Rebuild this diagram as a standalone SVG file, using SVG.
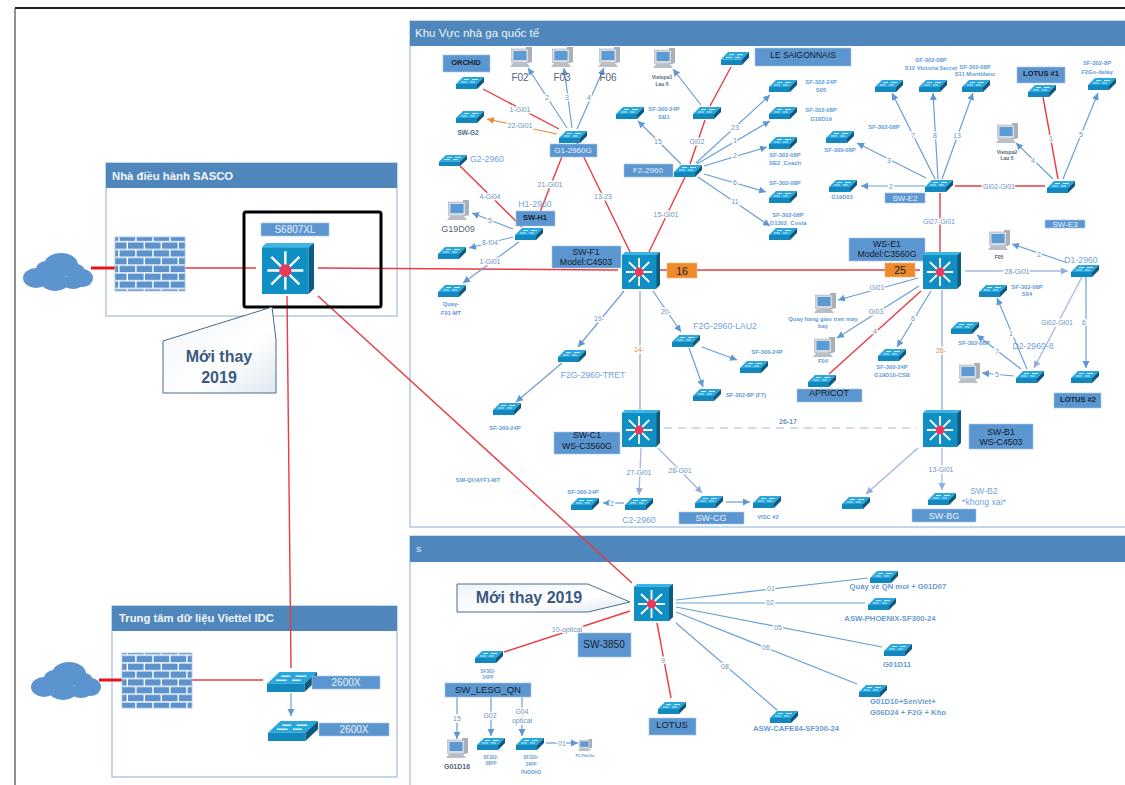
<svg xmlns="http://www.w3.org/2000/svg" width="1125" height="785" viewBox="0 0 1125 785">
<style>
text{font-family:"Liberation Sans","Noto Sans",sans-serif;text-anchor:middle;dominant-baseline:central}
.panel{fill:#fff;stroke:#9dbbd9;stroke-width:1.2}
.hdr{fill:#4f86bb}
.ttl{fill:#f2f6fb;text-anchor:start;font-size:11.500px}
.ttlb{fill:#f2f6fb;text-anchor:start;font-size:11.300px;font-weight:bold}
.box{fill:#5b96d1;stroke:#a9c7e6;stroke-width:.6}
.dk{fill:#17202c;font-size:8.800px}
.dks{fill:#17202c;font-size:7.500px;font-weight:bold}
.wh{fill:#eaf2fb;font-size:9px}
.s{fill:#5f9bd6;font-size:5.800px;font-weight:bold}
.m{fill:#6a9bd0;font-size:7.700px;font-weight:bold}
.n{fill:#74a2d6;font-size:8.700px}
.g{fill:#55657a;font-size:10px}
.lb{fill:#6f93bd;font-size:7px;paint-order:stroke;stroke:#fff;stroke-width:3px}
.lbo{fill:#e08a3c;font-size:7px;paint-order:stroke;stroke:#fff;stroke-width:3px}
.lbb{fill:#6f93bd;font-size:7px;font-weight:bold}
#connectors line{fill:none}
.r{stroke:#ea3b42;stroke-width:1.4}
.rt{stroke:#e8121c;stroke-width:3}
.b{stroke:#6b9fd6;stroke-width:1.2;marker-end:url(#ab)}
.bn{stroke:#6b9fd6;stroke-width:1.2}
.l{stroke:#a3b8e0;stroke-width:1.3;marker-end:url(#al)}
.ln{stroke:#a3b8e0;stroke-width:1.6}
.o{stroke:#ed8a35;stroke-width:1.2;marker-end:url(#ao)}
.d{stroke:#a3b8e0;stroke-width:1.2;stroke-dasharray:8 6}
.call{stroke:#4a6a8a;stroke-width:1;fill:url(#cg)}
.ct{fill:#3a5a82;font-size:16px;font-weight:bold}
.org{fill:#ef8a2c;stroke:#f6b77e;stroke-width:.6}
</style>
<defs>
<marker id="ab" markerUnits="userSpaceOnUse" markerWidth="8" markerHeight="8" refX="7" refY="4" orient="auto"><path d="M0 .5L7 4L0 7.5z" fill="#5f97d3"/></marker>
<marker id="al" markerUnits="userSpaceOnUse" markerWidth="8" markerHeight="8" refX="7" refY="4" orient="auto"><path d="M0 .5L7 4L0 7.5z" fill="#93ade0"/></marker>
<marker id="ao" markerUnits="userSpaceOnUse" markerWidth="8" markerHeight="8" refX="7" refY="4" orient="auto"><path d="M0 .5L7 4L0 7.5z" fill="#ed8a35"/></marker>
<linearGradient id="cg" x1="0" y1="0" x2="1" y2="1"><stop offset="0" stop-color="#f0f3f7"/><stop offset=".6" stop-color="#fff"/><stop offset="1" stop-color="#dfe7f0"/></linearGradient>
<pattern id="brick" patternUnits="userSpaceOnUse" width="34" height="15.6">
<rect width="34" height="15.6" fill="#fff"/>
<rect x=".6" y=".6" width="15.6" height="6.4" fill="#5d93cc"/><rect x="17.6" y=".6" width="15.6" height="6.4" fill="#5d93cc"/>
<rect x="-8" y="8.4" width="15.6" height="6.4" fill="#5d93cc"/><rect x="9" y="8.4" width="15.6" height="6.4" fill="#5d93cc"/><rect x="26" y="8.4" width="15.6" height="6.4" fill="#5d93cc"/>
</pattern>
<symbol id="sw" viewBox="0 0 28 12" preserveAspectRatio="none">
<path d="M7 0H28L21 7H0z" fill="#2aa7dc"/><path d="M0 7H21V12H0z" fill="#1388bf"/><path d="M21 7L28 0V5L21 12z" fill="#0d5a7e"/>
<path d="M8 2.500H13M16 2.500H22M5 5H11M14 5H19" stroke="#d9f1fb" stroke-width=".9" fill="none"/>
</symbol>
<symbol id="l3" viewBox="0 0 39 37" preserveAspectRatio="none">
<path d="M0 3L3 0H39L35 3z" fill="#3eb5e2"/><path d="M0 3H35V37H0z" fill="#0f8fc4"/><path d="M35 3L39 0V33L35 37z" fill="#0b5c82"/>
<path d="M17.500 6V34M4 20H31M7 10L28 30M28 10L7 30" stroke="#fff" stroke-width="1.8" fill="none"/>
<circle cx="17.500" cy="20" r="4.600" fill="#e93a5b"/>
</symbol>
<symbol id="pc" viewBox="0 0 22 20" preserveAspectRatio="none">
<path d="M16 0H22V15L19 16H16z" fill="#a9b0b8"/>
<rect x="1.500" y="2" width="17" height="13.500" fill="#d5d9de" stroke="#9aa3ac" stroke-width=".5"/>
<rect x="3.500" y="4" width="13" height="9" fill="#5b9bd5"/>
<path d="M3 16H17L20 20H0z" fill="#b9bfc6"/>
</symbol>
<symbol id="cloud" viewBox="0 0 70 38" preserveAspectRatio="none">
<g fill="#5b94cf"><ellipse cx="13" cy="25" rx="13" ry="10"/><ellipse cx="24" cy="16" rx="11" ry="8"/><ellipse cx="38" cy="12" rx="17" ry="12"/><ellipse cx="53" cy="19" rx="9" ry="8"/><ellipse cx="60" cy="25" rx="10" ry="9"/><ellipse cx="32" cy="29" rx="14" ry="9"/><ellipse cx="50" cy="29" rx="11" ry="7"/></g>
</symbol>
</defs>

<rect width="1125" height="785" fill="#fff"/>
<path d="M15 785V8.500" fill="none" stroke="#1f2226" stroke-width="1"/>
<path d="M15 8H1125" stroke="#1f2226" stroke-width="2"/>

<g id="panels">
<g id="panel-intl"><rect class="panel" x="410" y="21" width="716" height="506"/><rect class="hdr" x="410" y="21" width="715" height="25"/><text class="ttl" x="415" y="33">Khu Vực nhà ga quốc tế</text></g>
<g id="panel-s"><path class="panel" d="M410 785V536H1126" /><rect class="hdr" x="410" y="536" width="715" height="26"/><text class="ttl" x="416" y="549" style="font-size:8px">S</text></g>
<g id="panel-sasco"><rect class="panel" x="106" y="163" width="291" height="153"/><rect class="hdr" x="106" y="163" width="291" height="25"/><text class="ttlb" x="112" y="176">Nhà điều hành SASCO</text></g>
<g id="panel-idc"><rect class="panel" x="112" y="606" width="285" height="171"/><rect class="hdr" x="112" y="606" width="285" height="25"/><text class="ttlb" x="119" y="618">Trung tâm dữ liệu Viettel IDC</text></g>
</g>

<g id="connectors">
<line class="rt" x1="91" y1="268" x2="115" y2="268"/><line class="r" x1="184" y1="268" x2="256" y2="268"/>
<line class="r" x1="318" y1="268" x2="618" y2="270"/><line class="r" x1="660" y1="270" x2="920" y2="270"/>
<line class="r" x1="318" y1="296" x2="632" y2="583"/><line class="r" x1="287" y1="296" x2="291" y2="668"/>
<line class="rt" x1="99" y1="680" x2="122" y2="680"/><line class="r" x1="191" y1="680" x2="263" y2="680"/>
<line class="b" x1="291" y1="693" x2="291" y2="716"/>
<line class="r" x1="483" y1="89" x2="559" y2="129"/><line class="o" x1="557" y1="134" x2="487" y2="119"/>
<line class="b" x1="567" y1="128" x2="528" y2="68"/><line class="b" x1="572" y1="128" x2="564" y2="68"/><line class="b" x1="577" y1="129" x2="604" y2="68"/>
<line class="r" x1="540" y1="212" x2="567" y2="144"/><line class="r" x1="577" y1="143" x2="630" y2="252"/><line class="r" x1="649" y1="252" x2="685" y2="177"/>
<line class="r" x1="460" y1="166" x2="522" y2="227"/>
<line class="b" x1="513" y1="229" x2="472" y2="213"/><line class="b" x1="513" y1="237" x2="469" y2="248"/><line class="b" x1="519" y1="242" x2="463" y2="283"/>
<line class="b" x1="681" y1="164" x2="638" y2="121"/><line class="r" x1="690" y1="164" x2="705" y2="120"/><line class="r" x1="710" y1="106" x2="731" y2="67"/><line class="b" x1="701" y1="105" x2="673" y2="69"/>
<line class="b" x1="696" y1="163" x2="770" y2="95"/><line class="b" x1="697" y1="164" x2="770" y2="121"/><line class="b" x1="704" y1="166" x2="767" y2="147"/><line class="b" x1="704" y1="174" x2="766" y2="192"/><line class="b" x1="698" y1="177" x2="770" y2="226"/>
<line class="b" x1="935" y1="179" x2="892" y2="93"/><line class="b" x1="938" y1="179" x2="933" y2="93"/><line class="b" x1="942" y1="179" x2="973" y2="93"/><line class="b" x1="926" y1="178" x2="857" y2="143"/><line class="b" x1="925" y1="186" x2="861" y2="186"/>
<line class="r" x1="955" y1="186" x2="1045" y2="186"/><line class="r" x1="1058" y1="179" x2="1043" y2="97"/><line class="b" x1="1063" y1="179" x2="1098" y2="93"/><line class="b" x1="1053" y1="179" x2="1016" y2="143"/>
<line class="r" x1="940" y1="193" x2="940" y2="252"/><line class="b" x1="1065" y1="262" x2="1012" y2="244"/><line class="l" x1="965" y1="271" x2="1068" y2="271"/>
<line class="b" x1="918" y1="278" x2="838" y2="300"/><line class="b" x1="919" y1="286" x2="837" y2="338"/><line class="r" x1="921" y1="291" x2="829" y2="374"/><line class="b" x1="931" y1="291" x2="897" y2="347"/>
<line class="ln" x1="942" y1="290" x2="942" y2="410"/><line class="d" x1="664" y1="428" x2="917" y2="428"/>
<line class="l" x1="918" y1="448" x2="866" y2="494"/><line class="l" x1="942" y1="448" x2="942" y2="490"/>
<line class="l" x1="1082" y1="277" x2="1034" y2="368"/><line class="b" x1="1086" y1="277" x2="1086" y2="368"/>
<line class="b" x1="1027" y1="369" x2="997" y2="298"/><line class="b" x1="1021" y1="369" x2="977" y2="335"/><line class="b" x1="1014" y1="376" x2="982" y2="373"/>
<line class="b" x1="624" y1="291" x2="578" y2="347"/><line class="ln" x1="640" y1="291" x2="640" y2="410"/><line class="b" x1="653" y1="291" x2="681" y2="332"/>
<line class="b" x1="702" y1="347" x2="737" y2="360"/><line class="b" x1="689" y1="348" x2="703" y2="387"/><line class="b" x1="562" y1="363" x2="516" y2="402"/>
<line class="l" x1="641" y1="448" x2="639" y2="495"/><line class="l" x1="658" y1="448" x2="702" y2="493"/><line class="b" x1="624" y1="503" x2="603" y2="503"/><line class="b" x1="726" y1="502" x2="750" y2="502"/>
<line class="r" x1="630" y1="611" x2="504" y2="652"/><line class="r" x1="657" y1="623" x2="671" y2="698"/>
<line class="b" x1="457" y1="697" x2="457" y2="739"/><line class="b" x1="491" y1="697" x2="491" y2="736"/><line class="b" x1="522" y1="697" x2="522" y2="736"/><line class="b" x1="546" y1="743" x2="578" y2="743"/>
<line class="bn" x1="676" y1="600" x2="868" y2="578"/><line class="bn" x1="676" y1="603" x2="865" y2="603"/><line class="bn" x1="676" y1="607" x2="882" y2="647"/><line class="bn" x1="676" y1="612" x2="857" y2="684"/><line class="bn" x1="676" y1="623" x2="777" y2="710"/>
<text class="lb" x="520" y="109">1-Gi01</text><text class="lb" x="520" y="125">22-Gi01</text><text class="lb" x="547" y="97">2</text><text class="lb" x="567" y="97">3</text><text class="lb" x="589" y="97">4</text>
<text class="lb" x="550" y="184">21-Gi01</text><text class="lb" x="603" y="196">13-23</text><text class="lb" x="666" y="214">15-Gi01</text><text class="lb" x="490" y="196">4-Gi04</text>
<text class="lb" x="490" y="220">5</text><text class="lb" x="490" y="242">8-f04</text><text class="lb" x="490" y="261">1-Gi01</text>
<text class="lb" x="658" y="141">15</text><text class="lb" x="697" y="141">Gi02</text><text class="lb" x="735" y="127">23</text><text class="lb" x="735" y="140">1</text><text class="lb" x="735" y="155">2</text><text class="lb" x="735" y="182">6</text><text class="lb" x="735" y="201">11</text>
<text class="lb" x="913" y="135">7</text><text class="lb" x="935" y="135">8</text><text class="lb" x="957" y="135">13</text><text class="lb" x="889" y="160">3</text><text class="lb" x="891" y="186">2</text>
<text class="lb" x="999" y="186">Gi02-Gi01</text><text class="lb" x="1051" y="138">1</text><text class="lb" x="1081" y="134">5</text><text class="lb" x="1033" y="160">4</text><text class="lb" x="939" y="221">Gi27-Gi01</text><text class="lb" x="1039" y="254">2</text><text class="lb" x="1017" y="271">28-Gi01</text>
<text class="lb" x="877" y="287">Gi01</text><text class="lb" x="876" y="311">Gi03</text><text class="lb" x="875" y="331">4</text><text class="lb" x="913" y="318">6</text><text class="lbo" x="941" y="350">26-</text><text class="lbb" x="788" y="421">26-17</text>
<text class="lb" x="941" y="469">13-Gi01</text><text class="lb" x="1057" y="322">Gi02-Gi01</text><text class="lb" x="1084" y="322">6</text><text class="lb" x="1011" y="333">1</text><text class="lb" x="997" y="351">7</text><text class="lb" x="997" y="374">5</text>
<text class="lb" x="599" y="318">19-</text><text class="lbo" x="639" y="349">14-</text><text class="lb" x="666" y="311">20-</text><text class="lb" x="639" y="472">27-Gi01</text><text class="lb" x="680" y="470">28-G01</text><text class="lb" x="612" y="503">2</text>
<text class="lb" x="567" y="629">10-optical</text><text class="lb" x="663" y="660">9</text><text class="lb" x="457" y="718">15</text><text class="lb" x="490" y="715">G02</text><text class="lb" x="522" y="711">G04</text><text class="lb" x="522" y="720">optical</text><text class="lb" x="562" y="743">01</text>
<text class="lb" x="771" y="588">01</text><text class="lb" x="770" y="602">02</text><text class="lb" x="778" y="627">05</text><text class="lb" x="766" y="647">06</text><text class="lb" x="725" y="666">08</text>
</g>

<g id="n-cloud1"><use href="#cloud" x="23" y="253" width="70" height="38"/></g>
<g id="n-fw1"><rect x="115" y="237" width="70" height="54" fill="url(#brick)" stroke="#a9c4e0" stroke-width=".8"/></g>
<g id="n-s6807"><rect x="244" y="212" width="137" height="95" rx="2" fill="none" stroke="#000" stroke-width="3"/><rect class="box" x="261" y="223" width="68" height="13"/><text class="wh" x="295" y="229.500" style="font-size:10px">S6807XL</text><use href="#l3" x="262" y="243" width="52" height="51"/></g>
<g id="n-callout1"><path class="call" d="M272 307L163 341V393H276V340z"/><text class="ct" x="219" y="356">Mới thay</text><text class="ct" x="219" y="377">2019</text></g>
<g id="n-cloud2"><use href="#cloud" x="31" y="662" width="70" height="38"/></g>
<g id="n-fw2"><rect x="122" y="653" width="70" height="55" fill="url(#brick)" stroke="#a9c4e0" stroke-width=".8"/></g>
<g id="n-2600a"><use href="#sw" x="267" y="672" width="50" height="20"/><rect class="box" x="312" y="676" width="68" height="13"/><text class="wh" x="346" y="682.500" style="font-size:10px">2600X</text></g>
<g id="n-2600b"><use href="#sw" x="268" y="721" width="50" height="20"/><rect class="box" x="319" y="723" width="70" height="13"/><text class="wh" x="354" y="729.500" style="font-size:10px">2600X</text></g>

<g id="n-orchid"><rect class="box" x="443" y="55" width="47" height="17"/><text class="dks" x="466" y="62">ORCHID</text><use href="#sw" x="456" y="77" width="28" height="12"/></g>
<g id="n-swg2"><use href="#sw" x="456" y="111" width="28" height="12"/><text class="s" x="468" y="132" style="fill:#4a6a90;font-size:6.500px">SW-G2</text></g>
<g id="n-g1"><use href="#sw" x="559" y="131" width="28" height="12"/><rect class="box" x="550" y="144" width="47" height="13"/><text class="wh" x="573" y="150.500" style="font-size:8px">G1-2960G</text></g>
<g id="n-g2"><use href="#sw" x="439" y="155" width="28" height="11"/><text class="n" x="487" y="159">G2-2960</text></g>
<g id="n-h1"><use href="#sw" x="515" y="228" width="28" height="12"/><rect class="box" x="516" y="211" width="39" height="15"/><text class="dks" x="535" y="217">SW-H1</text><text class="n" x="535" y="204">H1-2960</text></g>
<g id="n-f04sw"><use href="#sw" x="438" y="247" width="28" height="12"/></g>
<g id="n-quay"><use href="#sw" x="438" y="285" width="28" height="12"/><text class="s" x="451" y="304">Quay-</text><text class="s" x="451" y="313">F01-MT</text></g>
<g id="n-f02"><use href="#pc" x="510" y="47" width="22" height="20"/><text class="g" x="520" y="77">F02</text></g>
<g id="n-f03"><use href="#pc" x="551" y="47" width="22" height="20"/><text class="g" x="562" y="77">F03</text></g>
<g id="n-f06"><use href="#pc" x="598" y="47" width="22" height="20"/><text class="g" x="608" y="77">F06</text></g>
<g id="n-vs1"><use href="#pc" x="653" y="48" width="22" height="20"/><text class="s" x="662" y="77" style="fill:#55657a;font-size:5px">Vietspa1</text><text class="s" x="662" y="84" style="fill:#55657a;font-size:5px">Lau 5</text></g>
<g id="n-g19d09"><use href="#pc" x="447" y="200" width="22" height="20"/><text class="g" x="458" y="229" style="font-size:9px">G19D09</text></g>
<g id="n-f2"><use href="#sw" x="674" y="165" width="28" height="12"/><rect class="box" x="624" y="164" width="49" height="13"/><text class="wh" x="648" y="170.500" style="font-size:8px">F2-2960</text></g>
<g id="n-sb1"><use href="#sw" x="616" y="107" width="28" height="12"/><text class="s" x="664" y="109">SF-300-24P</text><text class="s" x="664" y="117">SB1</text></g>
<g id="n-gi02"><use href="#sw" x="693" y="107" width="28" height="12"/></g>
<g id="n-lesaig"><use href="#sw" x="721" y="52" width="28" height="13"/><rect class="box" x="755" y="48" width="96" height="18"/><text class="dks" x="803" y="55" style="font-size:8.500px;font-weight:normal">LE SAIGONNAIS</text></g>
<g id="n-s05"><use href="#sw" x="769" y="80" width="28" height="12"/><text class="s" x="821" y="82">SF-302-24P</text><text class="s" x="821" y="90">S05</text></g>
<g id="n-g16"><use href="#sw" x="769" y="107" width="28" height="12"/><text class="s" x="821" y="110">SF-302-08P</text><text class="s" x="821" y="119">G16D19</text></g>
<g id="n-coach"><use href="#sw" x="769" y="137" width="28" height="12"/><text class="s" x="785" y="155">SF-302-08P</text><text class="s" x="785" y="163">SB2_Coach</text></g>
<g id="n-s183"><use href="#sw" x="769" y="191" width="28" height="12"/><text class="s" x="785" y="183">SF-302-08P</text></g>
<g id="n-costa"><use href="#sw" x="769" y="228" width="28" height="12"/><text class="s" x="788" y="215">SF-302-08P</text><text class="s" x="788" y="223">G1302_Costa</text></g>
<g id="n-f1"><rect class="box" x="552" y="246" width="69" height="22"/><text class="dk" x="586" y="252">SW-F1</text><text class="dk" x="586" y="262">Model:C4503</text><use href="#l3" x="622" y="252" width="38" height="37"/></g>
<g id="n-16"><rect class="org" x="667" y="263" width="30" height="15"/><text class="dk" x="682" y="270.500" style="font-size:10.500px">16</text></g>
<g id="n-25"><rect class="org" x="885" y="263" width="30" height="14"/><text class="dk" x="900" y="270" style="font-size:10.500px">25</text></g>
<g id="n-s875"><use href="#sw" x="875" y="80" width="28" height="12"/><text class="s" x="884" y="127">SF-302-08P</text></g>
<g id="n-s12"><use href="#sw" x="919" y="80" width="28" height="12"/><text class="s" x="931" y="60">SF-302-08P</text><text class="s" x="931" y="68">S12 Victoria Secret</text></g>
<g id="n-s11"><use href="#sw" x="962" y="80" width="28" height="12"/><text class="s" x="975" y="67">SF-302-08P</text><text class="s" x="975" y="74">S11 Montblanc</text></g>
<g id="n-lotus1"><rect class="box" x="1017" y="67" width="48" height="16"/><text class="dks" x="1041" y="73">LOTUS #1</text><use href="#sw" x="1028" y="85" width="28" height="12"/></g>
<g id="n-f2go"><use href="#sw" x="1088" y="78" width="28" height="12"/><text class="s" x="1097" y="63">SF-302-8P</text><text class="s" x="1097" y="72">F2Go-delay</text></g>
<g id="n-s300"><use href="#sw" x="826" y="131" width="28" height="12"/><text class="s" x="840" y="150">SF-300-08P</text></g>
<g id="n-g19d03"><use href="#sw" x="829" y="180" width="28" height="12"/><text class="s" x="842" y="197">G19D03</text></g>
<g id="n-e2"><use href="#sw" x="925" y="180" width="28" height="12"/><rect class="box" x="885" y="193" width="40" height="10"/><text class="wh" x="905" y="198" style="font-size:8px">SW-E2</text></g>
<g id="n-e3"><use href="#sw" x="1047" y="181" width="28" height="12"/><rect class="box" x="1045" y="220" width="40" height="8"/><text class="wh" x="1065" y="224" style="font-size:8px">SW-E3</text></g>
<g id="n-vs2"><use href="#pc" x="996" y="123" width="22" height="20"/><text class="s" x="1007" y="152" style="fill:#55657a;font-size:5px">Vietspa2</text><text class="s" x="1007" y="158" style="fill:#55657a;font-size:5px">Lau 5</text></g>
<g id="n-e1"><rect class="box" x="849" y="238" width="76" height="23"/><text class="dk" x="887" y="244">WS-E1</text><text class="dk" x="887" y="254">Model:C3560G</text><use href="#l3" x="923" y="252" width="38" height="37"/></g>
<g id="n-f05"><use href="#pc" x="988" y="230" width="22" height="20"/><text class="s" x="999" y="257" style="fill:#55657a;font-size:5px">F05</text></g>
<g id="n-d1"><use href="#sw" x="1071" y="265" width="28" height="12"/><text class="n" x="1081" y="260">D1-2960</text></g>
<g id="n-s04"><use href="#sw" x="979" y="285" width="28" height="12"/><text class="s" x="1027" y="287">SF-302-08P</text><text class="s" x="1027" y="294">S04</text></g>
<g id="n-s322"><use href="#sw" x="951" y="322" width="28" height="12"/><text class="s" x="974" y="343">SF-302-08P</text></g>
<g id="n-d2"><use href="#sw" x="1016" y="371" width="28" height="12"/><text class="n" x="1033" y="346">D2-2960-8</text></g>
<g id="n-d2pc"><use href="#pc" x="958" y="363" width="22" height="20"/></g>
<g id="n-lotus2"><use href="#sw" x="1071" y="371" width="28" height="12"/><rect class="box" x="1054" y="393" width="47" height="15"/><text class="dks" x="1078" y="399">LOTUS #2</text></g>
<g id="n-quayhang"><use href="#pc" x="814" y="293" width="22" height="20"/><text class="s" x="823" y="319">Quay hang giao tren may</text><text class="s" x="823" y="326">bay</text></g>
<g id="n-f04"><use href="#pc" x="813" y="337" width="22" height="20"/><text class="s" x="823" y="361">F04</text></g>
<g id="n-apricot"><use href="#sw" x="808" y="375" width="28" height="12"/><rect class="box" x="797" y="389" width="65" height="13"/><text class="dks" x="829" y="393" style="font-size:9px;font-weight:normal">APRICOT</text></g>
<g id="n-g19d10"><use href="#sw" x="878" y="349" width="28" height="12"/><text class="s" x="892" y="367">SF-300-24P</text><text class="s" x="892" y="375">G19D10-CSB</text></g>
<g id="n-lau2"><use href="#sw" x="672" y="335" width="28" height="12"/><text class="n" x="725" y="326">F2G-2960-LAU2</text></g>
<g id="n-tret"><use href="#sw" x="558" y="350" width="28" height="12"/><text class="n" x="593" y="375">F2G-2960-TRET</text></g>
<g id="n-s300r"><use href="#sw" x="740" y="361" width="28" height="12"/><text class="s" x="767" y="352">SF-300-24P</text></g>
<g id="n-f7"><use href="#sw" x="693" y="389" width="28" height="12"/><text class="s" x="746" y="395">SF-302-8P (F7)</text></g>
<g id="n-s300l"><use href="#sw" x="493" y="403" width="28" height="12"/><text class="s" x="505" y="428">SF-300-24P</text></g>
<g id="n-quayf1"><text class="s" x="478" y="480">SW-QUAYF1-MT</text></g>
<g id="n-c1"><rect class="box" x="554" y="432" width="66" height="22"/><text class="dk" x="587" y="435">SW-C1</text><text class="dk" x="587" y="445.500">WS-C3560G</text><use href="#l3" x="622" y="410" width="38" height="37"/></g>
<g id="n-c2"><use href="#sw" x="625" y="498" width="28" height="12"/><text class="n" x="639" y="520">C2-2960</text></g>
<g id="n-s571"><use href="#sw" x="571" y="498" width="28" height="12"/><text class="s" x="583" y="492">SF-300-24P</text></g>
<g id="n-cg"><use href="#sw" x="695" y="496" width="28" height="12"/><rect class="box" x="679" y="512" width="65" height="12"/><text class="wh" x="711" y="518">SW-CG</text></g>
<g id="n-visc"><use href="#sw" x="753" y="496" width="28" height="12"/><text class="s" x="768" y="517">VISC #2</text></g>
<g id="n-b1"><use href="#l3" x="923" y="410" width="38" height="37"/><rect class="box" x="969" y="424" width="64" height="25"/><text class="dk" x="1001" y="432">SW-B1</text><text class="dk" x="1001" y="442">WS-C4503</text></g>
<g id="n-b842"><use href="#sw" x="842" y="497" width="28" height="12"/></g>
<g id="n-b2"><use href="#sw" x="928" y="493" width="28" height="12"/><rect class="box" x="912" y="509" width="64" height="13"/><text class="wh" x="944" y="515.500">SW-BG</text><text class="n" x="984" y="491">SW-B2</text><text class="n" x="984" y="502">*khong xai*</text></g>

<g id="n-3850"><use href="#l3" x="634" y="584" width="39" height="37"/><rect class="box" x="578" y="633" width="53" height="24"/><text class="dk" x="604" y="644" style="font-size:10px">SW-3850</text></g>
<g id="n-callout2"><path class="call" d="M457 584H588L630 602L588 612H457z"/><text class="ct" x="529" y="597">Mới thay 2019</text></g>
<g id="n-lesg"><use href="#sw" x="475" y="651" width="28" height="12"/><text class="s" x="488" y="671" style="font-size:4.500px">SF302-</text><text class="s" x="488" y="677" style="font-size:4.500px">24PP</text><rect class="box" x="445" y="683" width="86" height="14"/><text class="dk" x="488" y="689" style="font-size:9.600px">SW_LESG_QN</text></g>
<g id="n-g01d16"><use href="#pc" x="446" y="738" width="22" height="20"/><text class="g" x="457" y="766" style="font-size:7px;font-weight:bold">G01D16</text></g>
<g id="n-g02"><use href="#sw" x="477" y="738" width="28" height="12"/><text class="s" x="491" y="757" style="font-size:4.500px">SF302-</text><text class="s" x="491" y="763" style="font-size:4.500px">08PP</text></g>
<g id="n-g04"><use href="#sw" x="516" y="738" width="28" height="12"/><text class="s" x="531" y="757" style="font-size:4.500px">SF320-</text><text class="s" x="531" y="764" style="font-size:4.500px">24PP</text><text class="s" x="531" y="772" style="font-size:4.500px">PHOOHO</text></g>
<g id="n-phache"><use href="#pc" x="578" y="739" width="14" height="12"/><text class="s" x="585" y="756" style="font-size:3.500px">PC-PhaChe</text></g>
<g id="n-lotus"><use href="#sw" x="658" y="702" width="28" height="12"/><rect class="box" x="649" y="718" width="47" height="17"/><text class="dk" x="672" y="724" style="font-size:9.500px">LOTUS</text></g>
<g id="n-quayve"><use href="#sw" x="870" y="571" width="28" height="12"/><text class="m" x="898" y="586">Quầy vé QN moi + G01D07</text></g>
<g id="n-phoenix"><use href="#sw" x="868" y="598" width="28" height="12"/><text class="m" x="890" y="618">ASW-PHOENIX-SF300-24</text></g>
<g id="n-g01d11"><use href="#sw" x="884" y="644" width="28" height="12"/><text class="m" x="897" y="664">G01D11</text></g>
<g id="n-g01d10"><use href="#sw" x="859" y="685" width="28" height="12"/><text class="m" x="870" y="701" style="text-anchor:start">G01D10+SenViet+</text><text class="m" x="870" y="712" style="text-anchor:start">G06D24 + F2G + Kho</text></g>
<g id="n-cafe"><use href="#sw" x="770" y="711" width="28" height="12"/><text class="m" x="796" y="728">ASW-CAFE84-SF300-24</text></g>
</svg>
